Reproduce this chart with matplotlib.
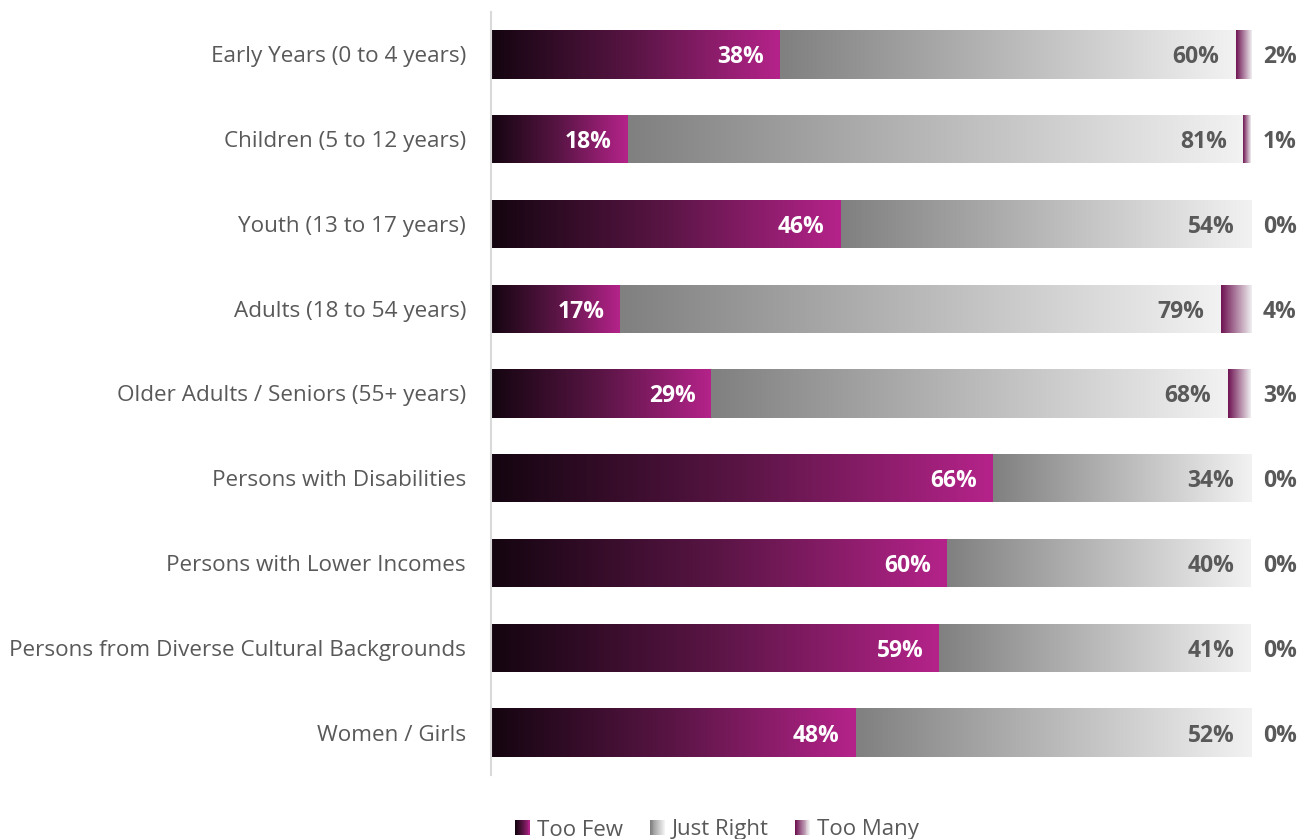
import matplotlib
matplotlib.use("Agg")
import matplotlib.pyplot as plt
import numpy as np
from matplotlib.colors import LinearSegmentedColormap
from matplotlib.legend_handler import HandlerBase
from matplotlib.patches import Rectangle

categories = [
    "Early Years (0 to 4 years)",
    "Children (5 to 12 years)",
    "Youth (13 to 17 years)",
    "Adults (18 to 54 years)",
    "Older Adults / Seniors (55+ years)",
    "Persons with Disabilities",
    "Persons with Lower Incomes",
    "Persons from Diverse Cultural Backgrounds",
    "Women / Girls",
]
too_few = [38, 18, 46, 17, 29, 66, 60, 59, 48]
just_right = [60, 81, 54, 79, 68, 34, 40, 41, 52]
too_many = [2, 1, 0, 4, 3, 0, 0, 0, 0]
series_names = ["Too Few", "Just Right", "Too Many"]

plt.rcParams["font.family"] = ["Open Sans", "DejaVu Sans"]
TEXT = "#595959"

cmaps = [
    LinearSegmentedColormap.from_list("few", ["#140510", "#5a1545", "#b5238a"]),
    LinearSegmentedColormap.from_list("right", ["#808080", "#f2f2f2"]),
    LinearSegmentedColormap.from_list("many", ["#6e1252", "#f0f0f0"]),
]

fig = plt.figure(figsize=(13.05, 8.39), dpi=100)
ax = fig.add_axes([491 / 1305, 1 - 775 / 839, 760 / 1305, 763 / 839])

y = np.arange(len(categories))
grad = np.linspace(0, 1, 256).reshape(1, -1)
left = np.zeros(len(categories))
for vals, cmap in zip([too_few, just_right, too_many], cmaps):
    bars = ax.barh(y, vals, left=left, height=0.57, color="none", edgecolor="none")
    for bar in bars:
        if bar.get_width() <= 0:
            continue
        x0, y0 = bar.get_x(), bar.get_y()
        im = ax.imshow(grad, cmap=cmap, aspect="auto", interpolation="bicubic",
                       extent=[x0, x0 + bar.get_width(), y0 + bar.get_height(), y0],
                       zorder=1)
        im.set_clip_path(bar)
    left = left + np.array(vals)

# value labels
for i in range(len(categories)):
    ax.text(too_few[i] - 2.1, i, f"{too_few[i]}%", ha="right", va="center_baseline",
            color="white", fontsize=16.5, fontweight="bold")
    ax.text(too_few[i] + just_right[i] - 2.2, i, f"{just_right[i]}%", ha="right",
            va="center_baseline", color=TEXT, fontsize=16.5, fontweight="bold")
    ax.text(103.8, i, f"{too_many[i]}%", ha="center", va="center_baseline",
            color=TEXT, fontsize=16.5, fontweight="bold")

ax.set_xlim(0, 100)
ax.set_ylim(len(categories) - 0.5, -0.5)
ax.set_yticks(y)
ax.set_yticklabels(categories, fontsize=16.2, color=TEXT)
ax.tick_params(axis="y", length=0, pad=18)
ax.set_xticks([])
for s in ["top", "right", "bottom"]:
    ax.spines[s].set_visible(False)
ax.spines["left"].set_color("#d9d9d9")
ax.spines["left"].set_linewidth(1.5)


class GradientHandler(HandlerBase):
    def __init__(self, cmap):
        super().__init__()
        self.cmap = cmap

    def create_artists(self, legend, orig_handle, xdescent, ydescent,
                       width, height, fontsize, trans):
        n = 16
        side = width
        y0 = -ydescent + (height - side) / 2
        arts = []
        for k in range(n):
            r = Rectangle((k * side / n - xdescent, y0), side / n * 1.05, side,
                          facecolor=self.cmap(k / (n - 1)), edgecolor="none",
                          transform=trans)
            arts.append(r)
        return arts


handles = [Rectangle((0, 0), 1, 1) for _ in series_names]
fig.legend(handles, series_names,
           handler_map={h: GradientHandler(c) for h, c in zip(handles, cmaps)},
           loc="center", bbox_to_anchor=(717 / 1305, 1 - 830 / 839), ncol=3,
           frameon=False, fontsize=16, labelcolor=TEXT, handlelength=0.68,
           handleheight=0.68, handletextpad=0.3, columnspacing=1.2,
           borderpad=0, borderaxespad=0)

fig.savefig("out.png", dpi=100)
